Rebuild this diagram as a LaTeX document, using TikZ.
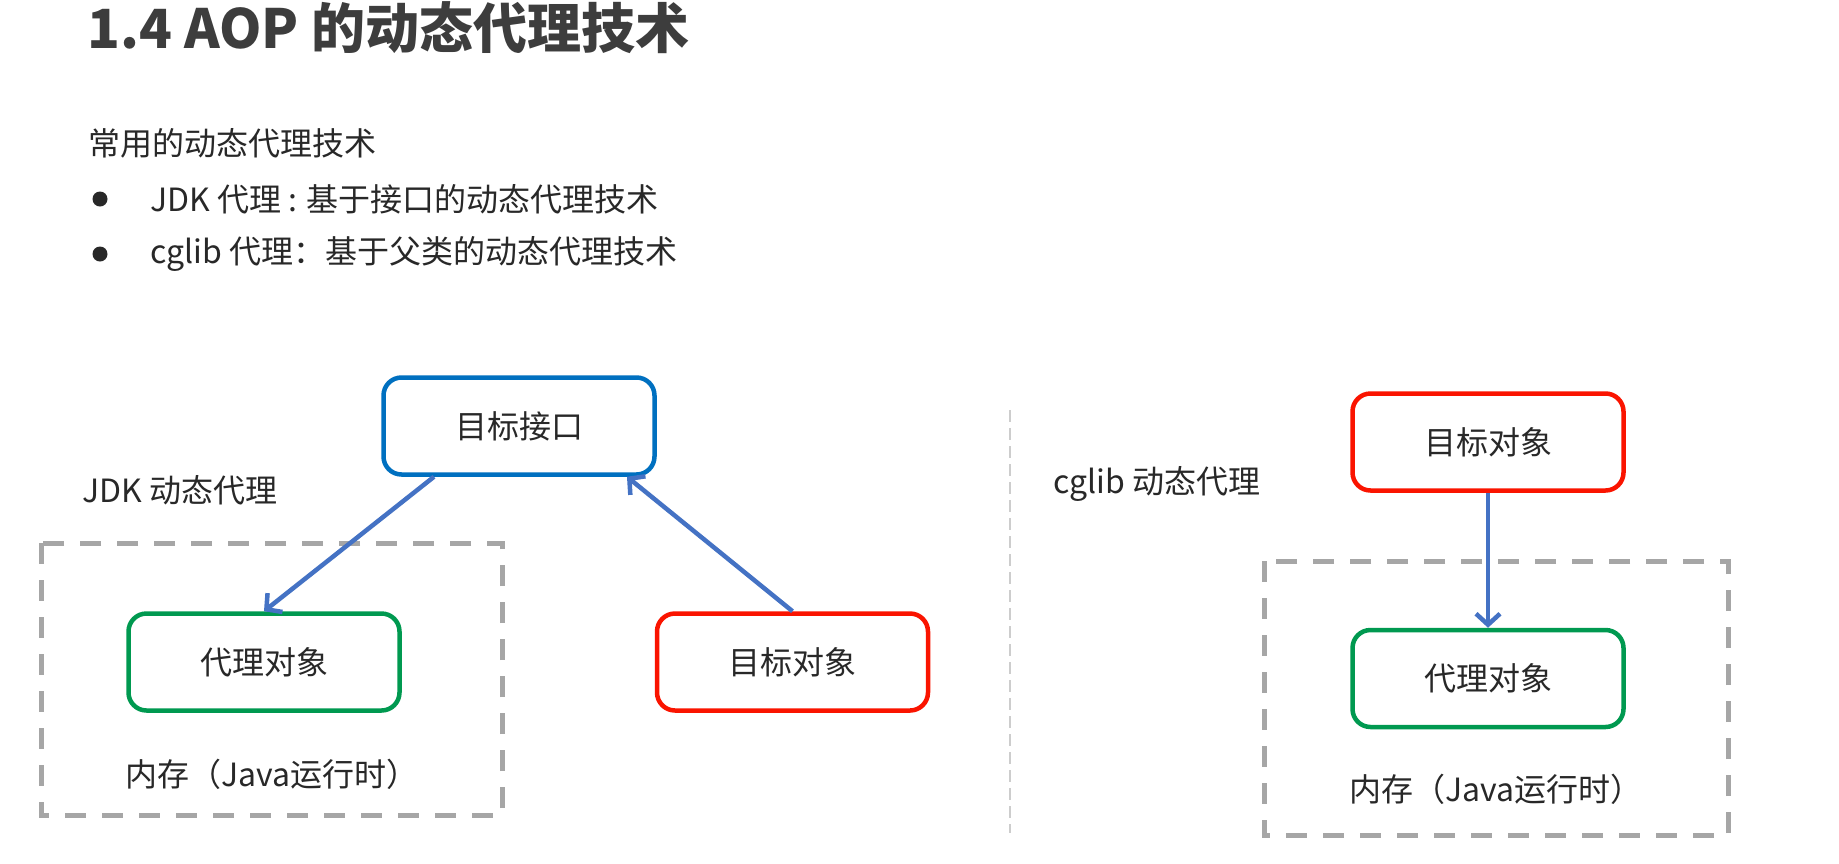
\documentclass[tikz,border=0pt]{standalone}
\usepackage{fontspec}
\setmainfont{Noto Sans CJK SC}
\usetikzlibrary{arrows.meta,positioning}
\definecolor{ifblue}{RGB}{0,112,192}
\definecolor{objred}{RGB}{250,20,0}
\definecolor{proxygreen}{RGB}{0,153,80}
\definecolor{linkblue}{RGB}{68,114,196}
\definecolor{memgray}{RGB}{166,166,166}
\definecolor{sepgray}{RGB}{205,205,205}
\definecolor{txtgray}{RGB}{40,40,40}

\begin{document}
\begin{tikzpicture}[x=1pt,y=-1pt,>={Straight Barb[length=11pt,width=24pt]},
  font=\fontsize{32}{38}\selectfont,text=txtgray,
  obj/.style={draw,rounded corners=18pt,line width=4.5pt,minimum width=271pt,minimum height=97pt,inner sep=0pt},
  lbl/.style={anchor=west,inner sep=0pt},
  mem/.style={draw=memgray,line width=5pt,dash pattern=on 21pt off 16pt},
  link/.style={->,draw=linkblue,line width=4.5pt}]
\fill[white] (0,0) rectangle (1839,863);
\useasboundingbox (0,0) rectangle (1839,863);
% heading and list
\node[lbl,font=\bfseries\fontsize{54}{62}\selectfont,text=txtgray!90] (title) at (87,28) {1.4 AOP 的动态代理技术};
\node[lbl] (intro) at (88,143) {常用的动态代理技术};
\node[circle,fill=txtgray,inner sep=0pt,minimum size=15pt] (dot1) at (100,199) {};
\node[circle,fill=txtgray,inner sep=0pt,minimum size=15pt] (dot2) at (100,254) {};
\node[lbl] (jdkitem) at (150,199) {JDK 代理 : 基于接口的动态代理技术};
\node[lbl] (cglibitem) at (150,254) {cglib 代理：基于父类的动态代理技术};
% JDK
\draw[mem] (41,543) rectangle (502,815);
\node[obj,draw=ifblue] (tgtif) at (519,426) {目标接口};
\node[obj,draw=proxygreen] (jdkproxy) at (264,662) {代理对象};
\node[obj,draw=objred,right=253pt of jdkproxy] (jdktarget) {目标对象};
\node[lbl] (jdklbl) at (82,490) {JDK 动态代理};
\node[lbl] (jdkmem) at (125,774) {内存（Java运行时）};
\draw[link] ([xshift=-85pt]tgtif.south) -- (jdkproxy.north);
\draw[link] (jdktarget.north) -- ([xshift=108pt]tgtif.south);
% separator
\draw[sepgray,line width=1.5pt,dash pattern=on 12pt off 6pt] (1010,410) -- (1010,833);
% cglib
\draw[mem] (1264,561) rectangle (1728,835);
\node[obj,draw=objred] (cgtarget) at (1488,442) {目标对象};
\node[obj,draw=proxygreen,below=135pt of cgtarget] (cgproxy) {代理对象};
\node[lbl] (cglbl) at (1053,484) {cglib 动态代理};
\node[lbl] (cgmem) at (1349,789) {内存（Java运行时）};
\draw[link] (cgtarget.south) -- (cgproxy.north);
\end{tikzpicture}
\end{document}
